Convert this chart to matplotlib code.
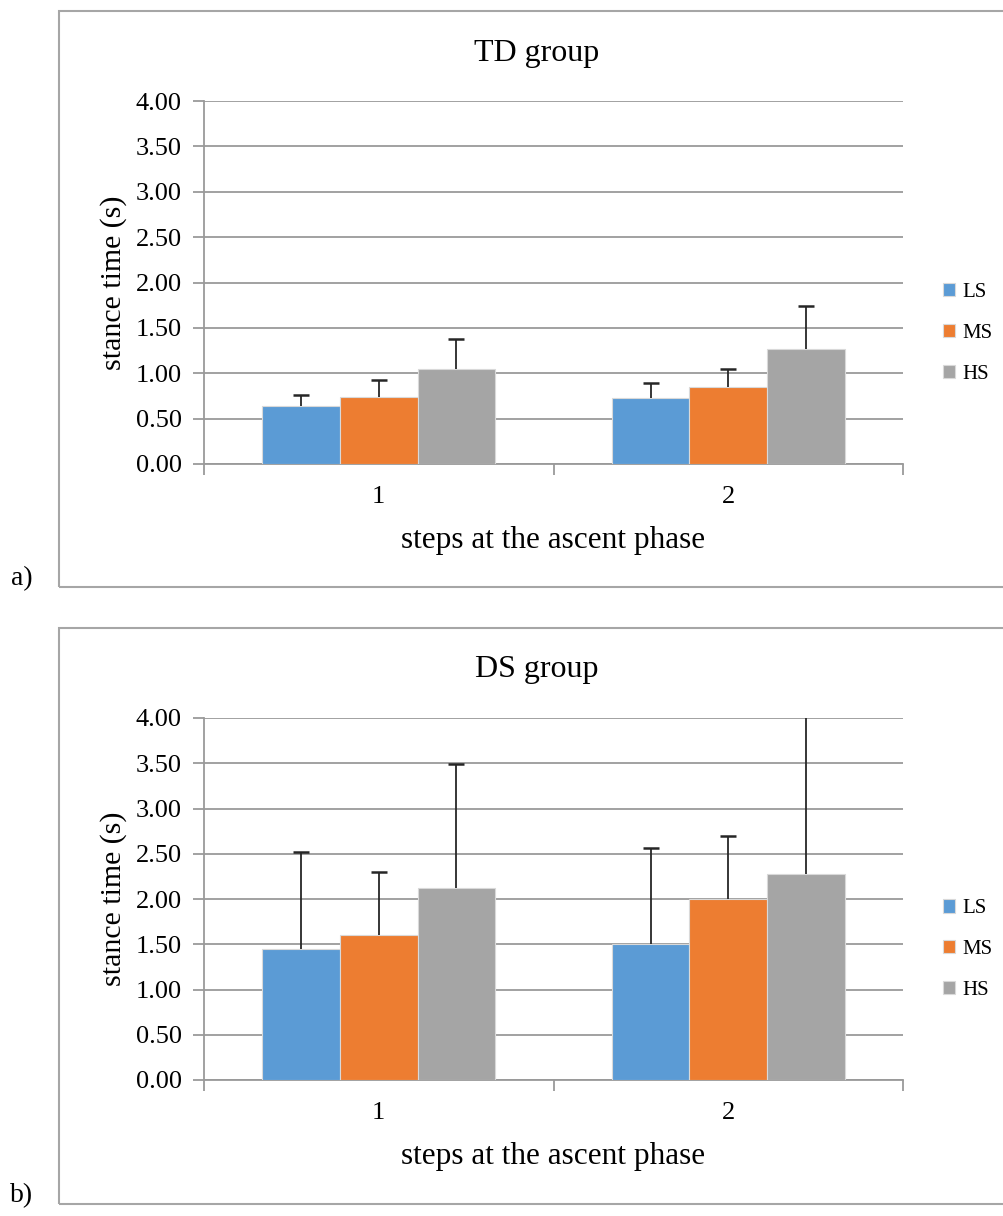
import matplotlib.pyplot as plt
import numpy as np
from matplotlib.patches import Rectangle

plt.rcParams["font.family"] = ["Liberation Serif", "DejaVu Serif"]

# data
steps = ["1", "2"]
series = ["LS", "MS", "HS"]
colors = ["#5B9BD5", "#ED7D31", "#A5A5A5"]

td_mean = {"LS": [0.64, 0.73], "MS": [0.74, 0.85], "HS": [1.05, 1.27]}
td_err = {"LS": [0.12, 0.16], "MS": [0.19, 0.20], "HS": [0.33, 0.47]}

ds_mean = {"LS": [1.45, 1.50], "MS": [1.60, 2.00], "HS": [2.12, 2.28]}
ds_err = {"LS": [1.07, 1.06], "MS": [0.70, 0.70], "HS": [1.37, 1.95]}

yticks = [0.0, 0.5, 1.0, 1.5, 2.0, 2.5, 3.0, 3.5, 4.0]

W, H = 1004, 1216
fig = plt.figure(figsize=(W / 100, H / 100), dpi=100)


def px(x0, y_top, w, h):
    # pixel box -> figure fraction
    return [x0 / W, 1 - (y_top + h) / H, w / W, h / H]


def panel(y_top, y_bot, box_top, box_bot, title, means, errs, letter):
    # frame around the chart
    fig.add_artist(Rectangle((59 / W, 1 - box_bot / H), 1000 / W, (box_bot - box_top) / H,
                             transform=fig.transFigure, fill=False, ec="#A6A6A6", lw=1.5))
    fig.text(22 / W, 1 - (box_bot - 8) / H, letter, fontsize=20, ha="center", va="center")

    ax = fig.add_axes(px(204, y_top, 699, y_bot - y_top))
    x = np.arange(len(steps))
    bw = 0.222
    for i, s in enumerate(series):
        xs = x + (i - 1) * bw
        tops = np.array(means[s]) + np.array(errs[s])
        ax.bar(xs, means[s], width=bw, color=colors[i], edgecolor="#d9d9d9", lw=0.8,
               label=s, zorder=3)
        # plus-only error bars with a cap at the top
        ax.vlines(xs, means[s], tops, color="#262626", lw=1.3, zorder=4)
        ax.plot(xs, tops, ls="none", marker="_", ms=12, mew=1.8, color="#262626", zorder=4)

    ax.set_xlim(-0.5, 1.5)
    ax.set_ylim(0, 4.0)
    ax.set_yticks(yticks)
    ax.set_yticklabels([f"{v:.2f}" for v in yticks], fontsize=19)
    ax.yaxis.grid(True, color="#9a9a9a", lw=1.3, zorder=0)
    ax.set_axisbelow(True)

    ax.set_xticks(x)
    ax.set_xticklabels(steps, fontsize=19)
    ax.set_xticks([-0.5, 0.5, 1.5], minor=True)
    ax.tick_params(axis="x", which="major", length=0, pad=16)
    ax.tick_params(axis="x", which="minor", length=8, color="#9a9a9a", width=1.3)
    ax.tick_params(axis="y", length=8, color="#9a9a9a", width=1.3, pad=8)

    for side in ["top", "right"]:
        ax.spines[side].set_visible(False)
    ax.spines["left"].set_color("#9a9a9a")
    ax.spines["bottom"].set_color("#9a9a9a")
    ax.spines["left"].set_linewidth(1.3)
    ax.spines["bottom"].set_linewidth(1.3)

    ax.set_ylabel("stance time (s)", fontsize=21.5, labelpad=6)
    ax.set_xlabel("steps at the ascent phase", fontsize=22.5, labelpad=13)
    fig.text(537 / W, 1 - (box_top + 42) / H, title, fontsize=23, ha="center", va="center")

    ax.legend(loc="center left", bbox_to_anchor=(1.03, 0.36), frameon=False,
              fontsize=15, handlelength=0.6, handleheight=0.6, handletextpad=0.35,
              labelspacing=1.05)
    return ax


panel(101, 464, 11, 587, "TD group", td_mean, td_err, "a)")
panel(718, 1080, 628, 1204, "DS group", ds_mean, ds_err, "b)")

plt.savefig("out.png", dpi=100)
